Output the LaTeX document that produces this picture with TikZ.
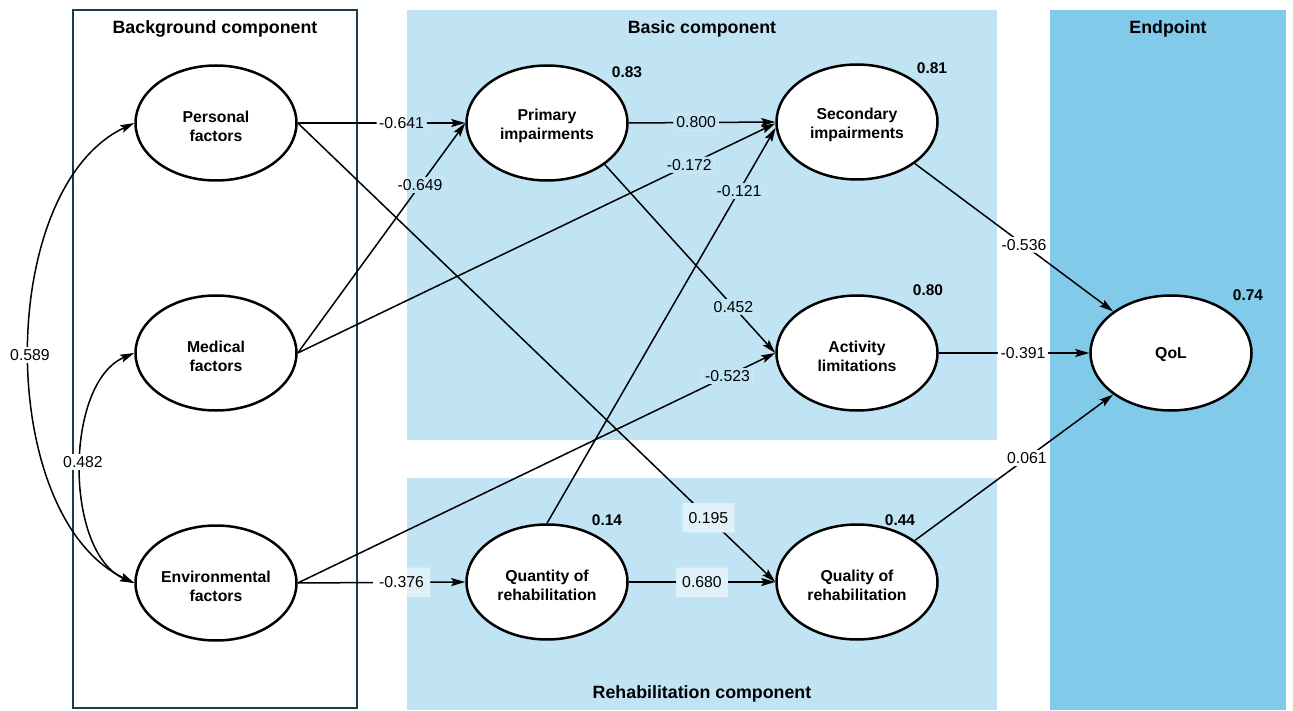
\documentclass[tikz,border=0pt]{standalone}
\usepackage{fontspec}
\setmainfont{Liberation Sans}
\usetikzlibrary{shapes.geometric,arrows.meta,calc}
\definecolor{basicblue}{HTML}{C1E4F4}
\definecolor{endblue}{HTML}{82CAEA}
\definecolor{navy}{HTML}{1D3B4F}
\pgfdeclarelayer{bg}
\pgfdeclarelayer{edges}
\pgfdeclarelayer{knock}
\pgfsetlayers{bg,edges,knock,main}
\newcommand\paintbg{%
  \fill[white] (0,0) rectangle (1293,711);
  \fill[basicblue] (407,10) rectangle (997,440);
  \fill[basicblue] (407,478) rectangle (997,710);
  \fill[endblue] (1050,10) rectangle (1286,710);
}
\begin{document}
\begin{tikzpicture}[x=1pt,y=-1pt,
  varbase/.style={ellipse,draw,line width=2.5pt,fill=white,minimum width=161pt,
    minimum height=115pt,inner sep=0pt,align=center,
    font=\fontsize{15.8}{19}\selectfont\bfseries},
  var/.style={varbase,execute at begin node={\rule{0pt}{36.5pt}}},
  var1/.style={varbase,execute at begin node={\rule{0pt}{15pt}}},
  ttl/.style={font=\fontsize{17.8}{20}\selectfont\bfseries,inner sep=0pt},
  rsq/.style={font=\fontsize{15.5}{18}\selectfont\bfseries,inner sep=0pt},
  lbl/.style={font=\fontsize{15.8}{18}\selectfont,inner xsep=2.5pt,inner ysep=2pt},
  lbox/.style={lbl,inner xsep=6pt,minimum height=29pt,fill=white,fill opacity=0.5,text opacity=1},
  tip/.tip={Stealth[length=14pt,width=8pt,inset=2.5pt]},
  arr/.style={line width=1.5pt,-tip},
  dbl/.style={line width=1.5pt,tip-tip}]
\useasboundingbox (0,0) rectangle (1293,711);

\begin{pgfonlayer}{bg}
  \paintbg
  \draw[navy,line width=2pt] (73,10) rectangle (357,708);
\end{pgfonlayer}

% titles
\node[ttl] (tback) at (215,29) {Background component};
\node[ttl] (tbasic) at (702,29) {Basic component};
\node[ttl] (tend) at (1168,29) {Endpoint};
\node[ttl] (trehab) at (702,694) {Rehabilitation component};

% variables
\node[var] (per) at (216,123) {Personal\\factors};
\node[var] (med) at (216,353) {Medical\\factors};
\node[var] (env) at (216,583) {Environmental\\factors};
\node[var] (pri) at (547,123) {Primary\\impairments};
\node[var] (sec) at (857,122) {Secondary\\impairments};
\node[var] (act) at (857,353) {Activity\\limitations};
\node[var] (qty) at (547,582) {Quantity of\\rehabilitation};
\node[var] (qlt) at (857,582) {Quality of\\rehabilitation};
\node[var1] (qol) at (1171,353) {QoL};

% R squared
\node[rsq] (r1) at (627,72) {0.83};
\node[rsq] (r2) at (932,68) {0.81};
\node[rsq] (r3) at (928,290) {0.80};
\node[rsq] (r4) at (1248,295) {0.74};
\node[rsq] (r5) at (607,520) {0.14};
\node[rsq] (r6) at (900,520) {0.44};

% connectors
\begin{pgfonlayer}{edges}
  \draw[arr] (per.east) -- coordinate[pos=0.62] (c1) (pri.west);
  \draw[arr] (med.east) -- coordinate[pos=0.73] (c2) (pri.west);
  \draw[arr] (med.east) -- coordinate[pos=0.82] (c3) (sec.181);
  \draw[arr] (pri.east) -- coordinate[pos=0.46] (c4) (sec.west);
  \draw[arr] (pri.south east) -- coordinate[pos=0.755] (c5) (act.west);
  \draw[arr] (env.east) -- coordinate[pos=0.9] (c6) (act.west);
  \draw[arr] (qty.north) -- coordinate[pos=0.84] (c7) (sec.184);
  \draw[arr] (per.east) -- coordinate[pos=0.86] (c8) (qlt.west);
  \draw[arr] (env.east) -- coordinate[pos=0.62] (c9) (qty.west);
  \draw[arr] (qty.east) -- coordinate[pos=0.5] (c10) (qlt.west);
  \draw[arr] (sec.south east) -- coordinate[pos=0.55] (c11) (qol.north west);
  \draw[arr] (act.east) -- coordinate[pos=0.56] (c12) (qol.west);
  \draw[arr] (qlt.north east) -- coordinate[pos=0.565] (c13) (qol.south west);
  \draw[dbl] (per.west) .. controls (-5,189) and (-5,517) .. (env.west);
  \draw[dbl] (med.west) .. controls (64,383) and (64,553) .. (env.west);
\end{pgfonlayer}

% labels
\node[lbl] (l1) at (c1) {-0.641};
\node[lbl] (l2) at (c2) {-0.649};
\node[lbl] (l3) at (c3) {-0.172};
\node[lbl] (l4) at (c4) {0.800};
\node[lbl] (l5) at (c5) {0.452};
\node[lbl] (l6) at (c6) {-0.523};
\node[lbl] (l7) at (c7) {-0.121};
\node[lbox] (l8) at (c8) {0.195};
\node[lbox] (l9) at (c9) {-0.376};
\node[lbox] (l10) at (c10) {0.680};
\node[lbl] (l11) at (c11) {-0.536};
\node[lbl] (l12) at (c12) {-0.391};
\node[lbl] (l13) at (c13) {0.061};
\node[lbl] (l14) at (30,355) {0.589};
\node[lbl] (l15) at (83,462) {0.482};

\begin{pgfonlayer}{knock}
  \begin{scope}
    \clip (l1.south west) rectangle (l1.north east)
          (l2.south west) rectangle (l2.north east)
          (l3.south west) rectangle (l3.north east)
          (l4.south west) rectangle (l4.north east)
          (l5.south west) rectangle (l5.north east)
          (l6.south west) rectangle (l6.north east)
          (l7.south west) rectangle (l7.north east)
          (l8.south west) rectangle (l8.north east)
          (l9.south west) rectangle (l9.north east)
          (l10.south west) rectangle (l10.north east)
          (l11.south west) rectangle (l11.north east)
          (l12.south west) rectangle (l12.north east)
          (l13.south west) rectangle (l13.north east)
          (l14.south west) rectangle (l14.north east)
          (l15.south west) rectangle (l15.north east);
    \paintbg
  \end{scope}
\end{pgfonlayer}
\end{tikzpicture}
\end{document}
